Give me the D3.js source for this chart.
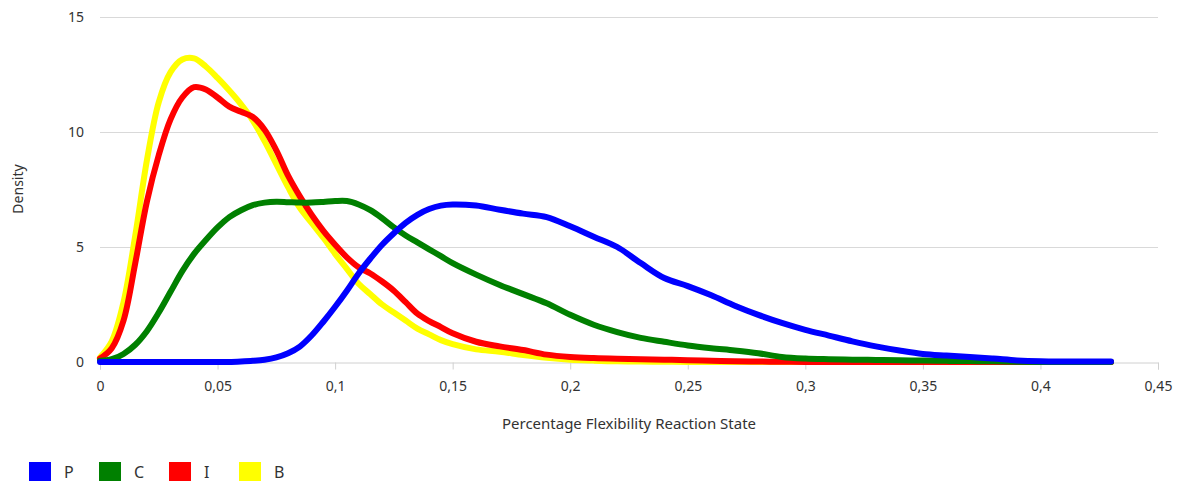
<!DOCTYPE html>
<html>
<head>
<meta charset="utf-8">
<script src="https://cdn.jsdelivr.net/npm/d3@7"></script>
<style>
  html, body { margin: 0; padding: 0; background: #fff; }
  svg { display: block; font-family: "Noto Sans", "Open Sans", sans-serif; }
</style>
</head>
<body>
<svg id="chart" width="1180" height="484"></svg>
<script>
// ---- Data ----
const xValues = [0,0.005,0.01,0.015,0.02,0.025,0.03,0.035,0.04,0.045,0.05,0.055,0.06,0.065,0.07,0.075,0.08,0.085,0.09,0.095,0.1,0.105,0.11,0.115,0.12,0.125,0.13,0.135,0.14,0.145,0.15,
  0.16,0.17,0.18,0.19,0.2,0.21,0.22,0.23,0.24,0.25,0.26,0.27,0.28,0.29,0.3,0.31,0.32,0.33,0.34,0.35,0.36,0.37,0.38,0.39,0.4,0.41,0.42,0.43];

const seriesNames = ["P", "C", "I", "B"];
const seriesColors = ["#0000ff", "#008000", "#ff0000", "#ffff00"];

const valuesP = [0,0,0,0,0,0,0,0,0,0,0,0,0.02,0.05,0.1,0.2,0.38,0.67,1.15,1.75,2.4,3.1,3.85,4.5,5.1,5.6,6.05,6.4,6.65,6.8,6.85,
  6.8,6.62,6.45,6.3,5.9,5.45,5.0,4.3,3.65,3.3,2.9,2.45,2.05,1.7,1.4,1.15,0.9,0.68,0.5,0.35,0.28,0.22,0.15,0.07,0.03,0.02,0.02,0.02];

const valuesC = [0.05,0.12,0.35,0.75,1.35,2.15,3.05,3.95,4.7,5.3,5.85,6.3,6.6,6.82,6.93,6.97,6.95,6.93,6.93,6.96,7.0,7.0,6.85,6.6,6.25,5.85,5.5,5.2,4.9,4.6,4.3,
  3.8,3.35,2.95,2.55,2.05,1.62,1.3,1.05,0.88,0.72,0.6,0.5,0.38,0.22,0.15,0.12,0.1,0.09,0.08,0.06,0.05,0.04,0.03,0.01,0,0,0,0];

const valuesI = [0.15,0.6,1.8,4.3,7.0,9.0,10.55,11.5,11.95,11.85,11.5,11.1,10.88,10.65,10.1,9.2,8.1,7.2,6.4,5.7,5.1,4.55,4.12,3.85,3.5,3.1,2.6,2.1,1.78,1.52,1.25,
  0.88,0.68,0.52,0.32,0.22,0.17,0.14,0.12,0.1,0.08,0.05,0.03,0.02,0.01,0,0,0,0,0,0,0,0,0,0,0,0,0,0];

const valuesB = [0.2,0.9,2.6,5.5,8.8,11.3,12.6,13.15,13.2,12.85,12.35,11.8,11.2,10.5,9.6,8.6,7.6,6.7,6.05,5.4,4.7,4.05,3.4,2.95,2.5,2.15,1.8,1.45,1.2,0.95,0.78,
  0.55,0.45,0.3,0.18,0.1,0.06,0.03,0.02,0.01,0,0,0,0,0,0,0,0,0,0,0,0,0,0,0,0,0,0,0];

const xTicks = [0,0.05,0.1,0.15,0.2,0.25,0.3,0.35,0.4,0.45];
const xTickLabels = ["0","0,05","0,1","0,15","0,2","0,25","0,3","0,35","0,4","0,45"];
const yTicks = [0,5,10,15];
const yTickLabels = ["0","5","10","15"];
const xTitle = "Percentage Flexibility Reaction State";
const yTitle = "Density";

// ---- Layout ----
const svg = d3.select("#chart");
const plotLeft = 100, plotRight = 1158, plotTop = 17, plotBottom = 362;
const x = d3.scaleLinear().domain([0, 0.45]).range([plotLeft, plotRight]);
const y = d3.scaleLinear().domain([0, 15]).range([plotBottom, plotTop]);

// gridlines
svg.append("g").selectAll("line").data(yTicks.filter(d => d > 0)).join("line")
  .attr("x1", plotLeft).attr("x2", plotRight)
  .attr("y1", d => y(d) + 0.5).attr("y2", d => y(d) + 0.5)
  .attr("stroke", "#d9d9d9").attr("stroke-width", 1);

// y labels
svg.append("g").selectAll("text").data(yTicks).join("text")
  .attr("x", 84).attr("y", d => y(d))
  .attr("dy", "0.35em").attr("text-anchor", "end")
  .attr("font-size", 14).attr("fill", "#333")
  .text((d, i) => yTickLabels[i]);

// x axis
const xAxis = d3.axisBottom(x).tickValues(xTicks).tickSize(7)
  .tickFormat((d, i) => xTickLabels[i]).tickPadding(12);
const gx = svg.append("g").attr("transform", `translate(0,${plotBottom + 0.5})`).call(xAxis);
gx.select(".domain").attr("stroke", "#d0d0d0");
gx.selectAll(".tick line").attr("stroke", "#d0d0d0");
gx.selectAll(".tick text").attr("font-size", 14).attr("fill", "#333")
  .attr("font-family", "Noto Sans, Open Sans, sans-serif");

// titles
svg.append("text").attr("x", 629).attr("y", 429)
  .attr("text-anchor", "middle").attr("font-size", 15).attr("fill", "#333").text(xTitle);
svg.append("text").attr("transform", "translate(23,189) rotate(-90)")
  .attr("text-anchor", "middle").attr("font-size", 14).attr("fill", "#333").text(yTitle);

// lines (draw B first, P last on top)
const allValues = [valuesP, valuesC, valuesI, valuesB];
const line = d3.line().x((d, i) => x(xValues[i])).y(d => y(d)).curve(d3.curveCatmullRom.alpha(0.5));
const order = [3, 2, 1, 0];
svg.append("g").selectAll("path").data(order).join("path")
  .attr("d", k => line(allValues[k]))
  .attr("fill", "none")
  .attr("stroke", k => seriesColors[k])
  .attr("stroke-width", 6)
  .attr("stroke-linecap", "round")
  .attr("stroke-linejoin", "round");

// legend
const lg = svg.append("g").selectAll("g").data(seriesNames).join("g")
  .attr("transform", (d, i) => `translate(${29 + i * 70},462)`);
lg.append("rect").attr("width", 22).attr("height", 19).attr("fill", (d, i) => seriesColors[i]);
lg.append("text").attr("x", 35).attr("y", 10).attr("dy", "0.35em")
  .attr("font-size", 16).attr("fill", "#333").text(d => d);
</script>
</body>
</html>
